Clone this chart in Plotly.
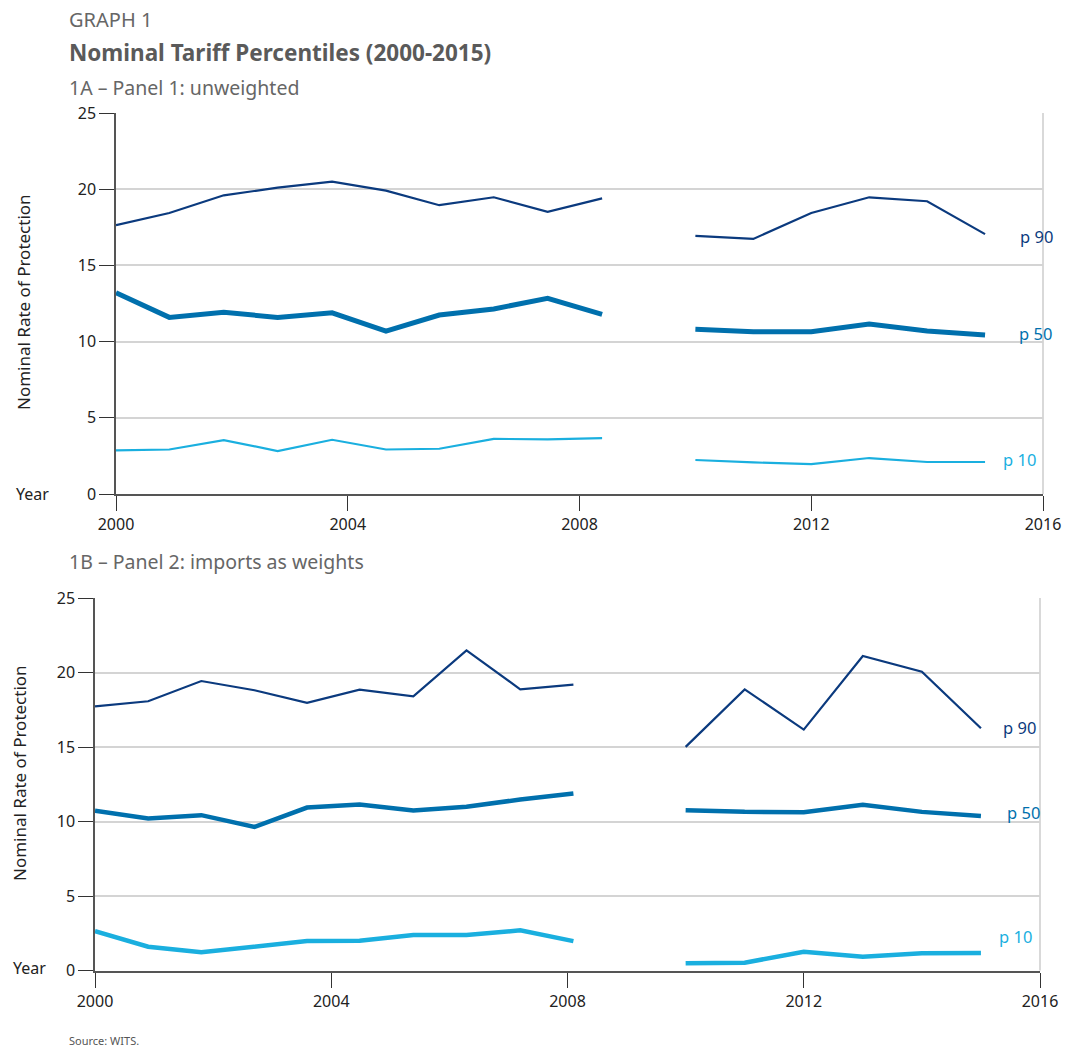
import plotly.graph_objects as go

# ---------------- Data ----------------
# Panel 1 (unweighted): first segment positions on the year axis, second segment 2010-2015
p1_x_a = [2000.0, 2000.92, 2001.86, 2002.79, 2003.73, 2004.66, 2005.58, 2006.52, 2007.45, 2008.39]
p1_p90_a = [17.64, 18.44, 19.60, 20.10, 20.50, 19.91, 18.95, 19.47, 18.51, 19.40]
p1_p50_a = [13.20, 11.59, 11.92, 11.59, 11.89, 10.69, 11.74, 12.14, 12.84, 11.79]
p1_p10_a = [2.86, 2.92, 3.54, 2.82, 3.56, 2.92, 2.97, 3.62, 3.58, 3.67]
p1_x_b = [2010, 2011, 2012, 2013, 2014, 2015]
p1_p90_b = [16.94, 16.74, 18.44, 19.47, 19.21, 17.05]
p1_p50_b = [10.81, 10.65, 10.65, 11.15, 10.69, 10.43]
p1_p10_b = [2.23, 2.07, 1.96, 2.36, 2.10, 2.10]

# Panel 2 (imports as weights)
p2_x_a = [2000.0, 2000.90, 2001.80, 2002.70, 2003.59, 2004.48, 2005.39, 2006.29, 2007.20, 2008.10]
p2_p90_a = [17.73, 18.07, 19.43, 18.81, 17.96, 18.85, 18.40, 21.49, 18.87, 19.19]
p2_p50_a = [10.72, 10.21, 10.43, 9.64, 10.94, 11.15, 10.74, 10.99, 11.48, 11.88]
p2_p10_a = [2.65, 1.60, 1.23, 1.60, 1.98, 2.00, 2.39, 2.39, 2.70, 1.98]
p2_x_b = [2010, 2011, 2012, 2013, 2014, 2015]
p2_p90_b = [15.01, 18.87, 16.17, 21.11, 20.06, 16.26]
p2_p50_b = [10.76, 10.65, 10.63, 11.12, 10.65, 10.38]
p2_p10_b = [0.49, 0.53, 1.27, 0.93, 1.16, 1.18]

x_ticks = [2000, 2004, 2008, 2012, 2016]
y_ticks = [0, 5, 10, 15, 20, 25]
series_labels = ["p 90", "p 50", "p 10"]

# ---------------- Styling ----------------
W, H = 1066, 1049
C90, C50, C10 = "#0b3a7e", "#0070ad", "#1aafdf"
FONT = "Noto Sans"


def px_x(v):
    return v / W


def px_y(v):
    return 1 - v / H


fig = go.Figure()

panels = [
    dict(xa="x", ya="y", xs=(p1_x_a, p1_x_b),
         data=[(p1_p90_a, p1_p90_b, C90, 2.2), (p1_p50_a, p1_p50_b, C50, 5), (p1_p10_a, p1_p10_b, C10, 2.2)]),
    dict(xa="x2", ya="y2", xs=(p2_x_a, p2_x_b),
         data=[(p2_p90_a, p2_p90_b, C90, 2.2), (p2_p50_a, p2_p50_b, C50, 4.5), (p2_p10_a, p2_p10_b, C10, 4.5)]),
]

for p in panels:
    for (ya_vals, yb_vals, col, w), name in zip(p["data"], series_labels):
        for xs, ys in zip(p["xs"], (ya_vals, yb_vals)):
            fig.add_trace(go.Scatter(x=xs, y=ys, mode="lines", xaxis=p["xa"], yaxis=p["ya"],
                                     line=dict(color=col, width=w), name=name,
                                     showlegend=False, hoverinfo="skip"))

axis_common_x = dict(range=[2000, 2016], tickvals=x_ticks, ticks="outside", ticklen=15,
                     tickcolor="#333", tickwidth=1, showline=True, linecolor="#555", linewidth=2,
                     showgrid=False, zeroline=False, automargin=False, ticklabeloverflow="allow",
                     tickfont=dict(family=FONT, size=16, color="#222"))
axis_common_y = dict(range=[0, 25], tickvals=y_ticks, ticks="outside", ticklen=15,
                     tickcolor="#333", tickwidth=1, showline=True, linecolor="#555", linewidth=1.5,
                     showgrid=True, gridcolor="#d4d4d4", gridwidth=1.5, zeroline=False, automargin=False,
                     tickfont=dict(family=FONT, size=16, color="#222"))

fig.update_layout(
    template="none",
    width=W, height=H, margin=dict(l=0, r=0, t=0, b=0, autoexpand=False),
    paper_bgcolor="white", plot_bgcolor="white",
    xaxis=dict(axis_common_x, domain=[px_x(116), px_x(1043)], anchor="y"),
    yaxis=dict(axis_common_y, domain=[px_y(494), px_y(113)], anchor="x"),
    xaxis2=dict(axis_common_x, domain=[px_x(95), px_x(1040)], anchor="y2"),
    yaxis2=dict(axis_common_y, domain=[px_y(970.6), px_y(598)], anchor="x2"),
)

# right borders
for xr, yr in (("x", "y"), ("x2", "y2")):
    fig.add_shape(type="line", xref=f"{xr} domain", yref=f"{yr} domain", x0=1, x1=1, y0=0, y1=1,
                  line=dict(color="#d9d9d9", width=2), layer="below")

annots = []
# Titles
annots.append(dict(text="GRAPH 1", x=px_x(67), y=px_y(20), font=dict(family=FONT, size=20, color="#666")))
annots.append(dict(text="<b>Nominal Tariff Percentiles (2000-2015)</b>", x=px_x(67), y=px_y(53),
                   font=dict(family=FONT, size=22.5, color="#5a5a5a")))
annots.append(dict(text="1A – Panel 1: unweighted", x=px_x(67), y=px_y(87),
                   font=dict(family=FONT, size=19.5, color="#666")))
annots.append(dict(text="1B – Panel 2: imports as weights", x=px_x(67), y=px_y(561),
                   font=dict(family=FONT, size=19.5, color="#666")))
annots.append(dict(text="Source: WITS.", x=px_x(67), y=px_y(1040),
                   font=dict(family=FONT, size=11, color="#555")))
annots.append(dict(text="Year", x=px_x(14), y=px_y(494), font=dict(family=FONT, size=16, color="#222")))
annots.append(dict(text="Year", x=px_x(11), y=px_y(968), font=dict(family=FONT, size=16, color="#222")))
# Y-axis titles
annots.append(dict(text="Nominal Rate of Protection", x=px_x(23), y=px_y(302), textangle=-90,
                   xanchor="center", font=dict(family=FONT, size=17, color="#222")))
annots.append(dict(text="Nominal Rate of Protection", x=px_x(19), y=px_y(773), textangle=-90,
                   xanchor="center", font=dict(family=FONT, size=17, color="#222")))

# Series end labels
labels_pos = [
    ("p 90", C90, 1018, 236), ("p 50", C50, 1017, 333), ("p 10", C10, 1001, 459),
    ("p 90", C90, 1001, 727), ("p 50", C50, 1005, 812), ("p 10", C10, 997, 936),
]
for t, c, xx, yy in labels_pos:
    annots.append(dict(text=t, x=px_x(xx), y=px_y(yy), font=dict(family=FONT, size=16.5, color=c)))

for a in annots:
    a.setdefault("xanchor", "left")
    a.update(xref="paper", yref="paper", yanchor="middle", showarrow=False)
fig.update_layout(annotations=annots)

fig.write_html(
    "out.html",
    config={"displayModeBar": False},
    post_script="document.body.style.margin='0';document.documentElement.style.overflow='hidden';",
)
